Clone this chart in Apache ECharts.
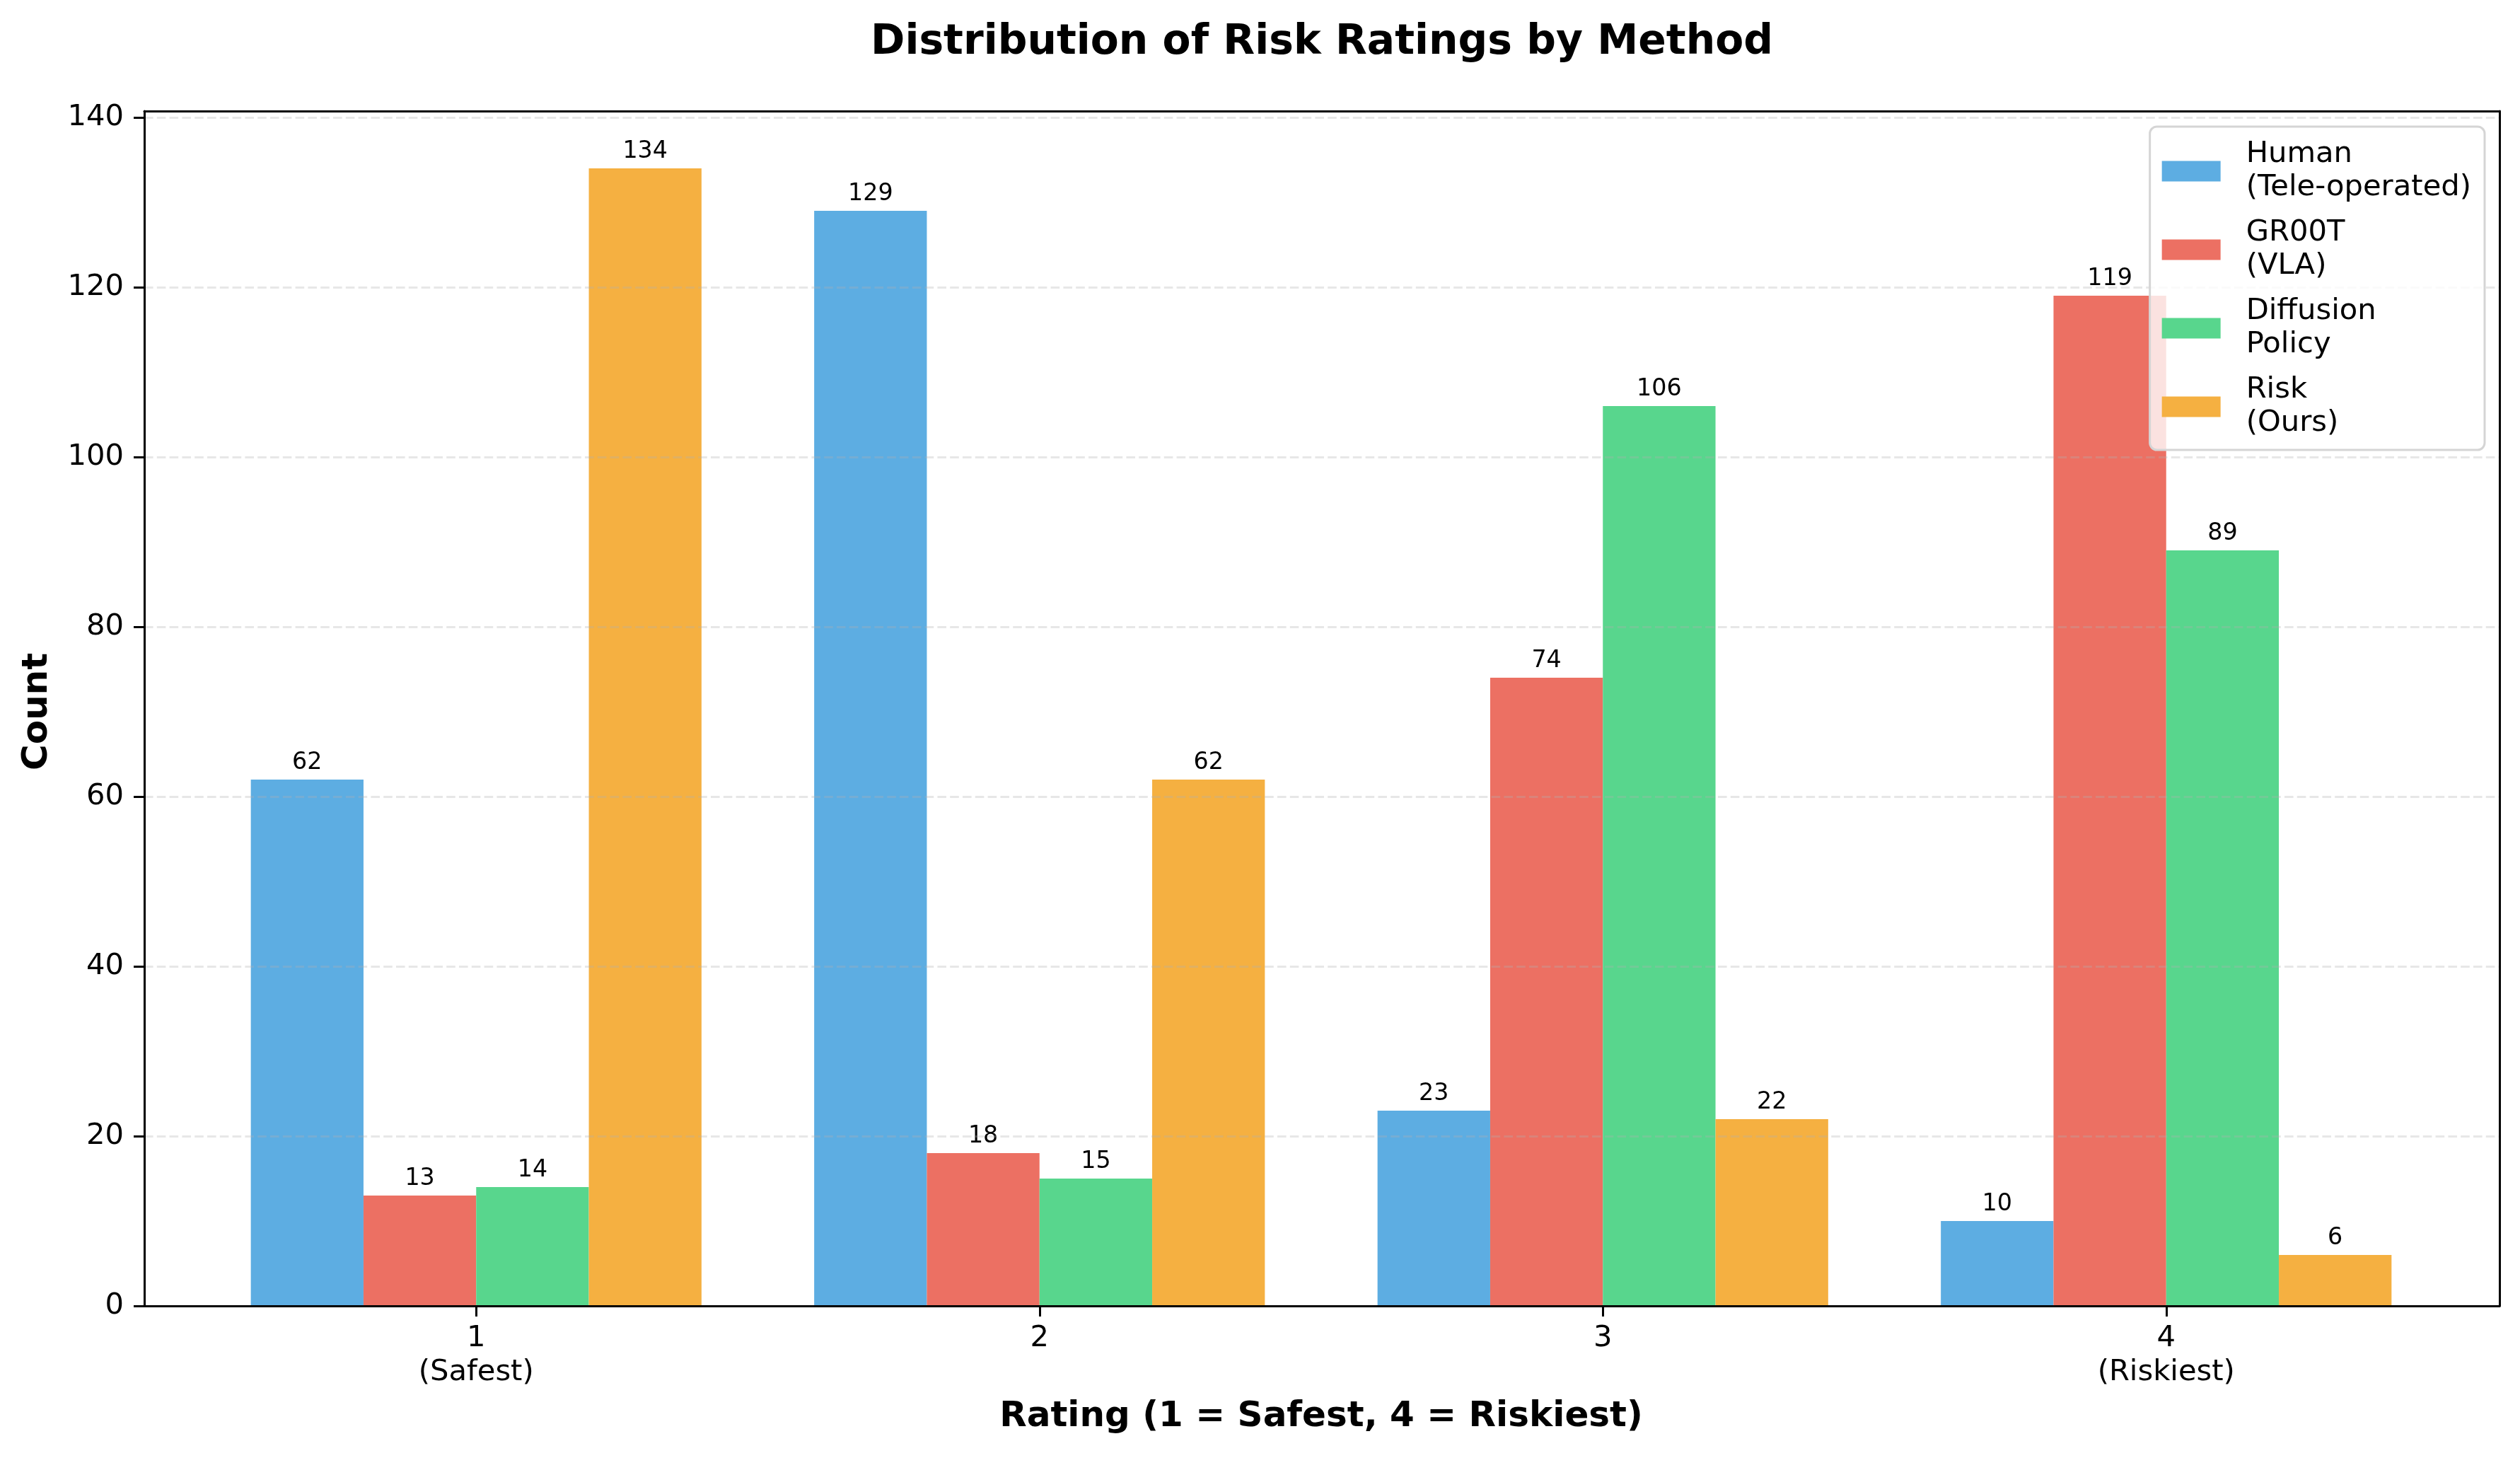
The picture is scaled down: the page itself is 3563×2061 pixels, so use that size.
<!DOCTYPE html>
<html>
<head>
<meta charset="utf-8">
<script src="https://cdn.jsdelivr.net/npm/echarts@6/dist/echarts.min.js"></script>
<style>
html,body{margin:0;padding:0;background:#fff;}
#chart{width:3563px;height:2061px;}
</style>
</head>
<body>
<div id="chart"></div>
<script>
const categories = ['1\n(Safest)', '2', '3', '4\n(Riskiest)'];
const seriesNames = ['Human\n(Tele-operated)', 'GR00T\n(VLA)', 'Diffusion\nPolicy', 'Risk\n(Ours)'];
const humanValues = [62, 129, 23, 10];
const grootValues = [13, 18, 74, 119];
const diffusionValues = [14, 15, 106, 89];
const riskValues = [134, 62, 22, 6];
const yTicks = [0, 20, 40, 60, 80, 100, 120, 140];
const colors = ['#5DADE2', '#EC7063', '#58D68D', '#F5B041'];

const FONT = 'DejaVu Sans';
const allValues = [humanValues, grootValues, diffusionValues, riskValues];

const chart = echarts.init(document.getElementById('chart'), null, {renderer: 'canvas'});

const frameAxis = (extra) => Object.assign({
  type: 'value', min: 0, max: 1, z: 5,
  axisLine: {show: true, onZero: false, lineStyle: {color: '#000', width: 3}},
  axisTick: {show: false}, axisLabel: {show: false}, splitLine: {show: false}
}, extra);

const option = {
  animation: false,
  backgroundColor: '#fff',
  title: {
    text: 'Distribution of Risk Ratings by Method',
    left: 1864, top: 27, textAlign: 'center',
    textStyle: {fontFamily: FONT, fontSize: 58.3, fontWeight: 'bold', color: '#000'}
  },
  legend: {
    orient: 'vertical', right: 50, top: 179,
    data: seriesNames,
    icon: 'rect', itemWidth: 83, itemHeight: 29, itemGap: 17,
    padding: [16, 19, 14, 17],
    backgroundColor: 'rgba(255,255,255,0.8)',
    borderColor: '#d5d5d5', borderWidth: 3, borderRadius: 10,
    textStyle: {fontFamily: FONT, fontSize: 41.7, lineHeight: 47, color: '#000', padding: [0, 0, 0, 31]}
  },
  grid: [
    {left: 204, right: 29, top: 157, bottom: 215},
    {left: 204, right: 29, top: 166, bottom: 215},
    {left: 275, width: 3186, top: 166, bottom: 215}
  ],
  xAxis: [
    frameAxis({gridIndex: 0, position: 'bottom'}),
    frameAxis({gridIndex: 0, position: 'top'}),
    {gridIndex: 1, type: 'value', min: 0, max: 1, show: false},
    {
      gridIndex: 2, type: 'category', data: categories,
      axisLine: {show: false},
      axisTick: {show: true, alignWithLabel: true, length: 15, lineStyle: {color: '#000', width: 3}},
      axisLabel: {margin: 22, fontFamily: FONT, fontSize: 41.7, lineHeight: 48, color: '#000'},
      name: 'Rating (1 = Safest, 4 = Riskiest)', nameLocation: 'middle', nameGap: 132,
      nameTextStyle: {fontFamily: FONT, fontSize: 50, fontWeight: 'bold', color: '#000'}
    }
  ],
  yAxis: [
    frameAxis({gridIndex: 0, position: 'left'}),
    frameAxis({gridIndex: 0, position: 'right'}),
    {
      gridIndex: 1, type: 'value', min: 0, max: 140, interval: 20, position: 'left', z: 3,
      axisLine: {show: false},
      axisTick: {show: true, length: 15, lineStyle: {color: '#000', width: 3}},
      axisLabel: {margin: 29, fontFamily: FONT, fontSize: 41.7, color: '#000',
        formatter: (v) => (yTicks.indexOf(v) >= 0 ? String(v) : '')},
      splitLine: {show: true, lineStyle: {color: 'rgba(176,176,176,0.3)', width: 3, type: [12.6, 5.2]}},
      name: 'Count', nameLocation: 'middle', nameGap: 126,
      nameTextStyle: {fontFamily: FONT, fontSize: 50, fontWeight: 'bold', color: '#000'}
    },
    {gridIndex: 2, type: 'value', min: 0, max: 140, show: false}
  ],
  series: seriesNames.map((name, i) => ({
    name: name,
    type: 'bar',
    xAxisIndex: 3, yAxisIndex: 3,
    data: allValues[i],
    barWidth: '20%', barGap: '0%',
    itemStyle: {color: colors[i]},
    label: {show: true, position: 'top', distance: 7, fontFamily: FONT, fontSize: 33.3, color: '#000'}
  }))
};
chart.setOption(option);
</script>
</body>
</html>
